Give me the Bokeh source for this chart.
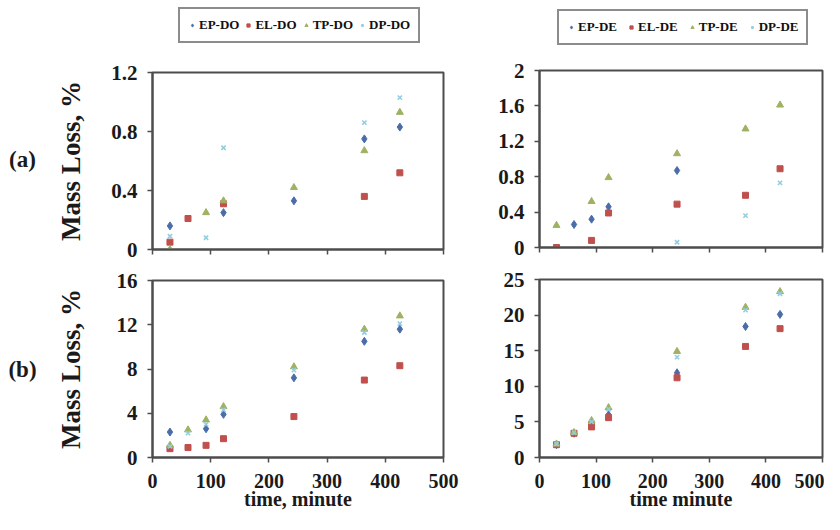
from bokeh.plotting import figure
from bokeh.layouts import column, row
from bokeh.models import Range1d, FixedTicker, Legend, LegendItem, ColumnDataSource
from bokeh.embed import file_html
from bokeh.resources import INLINE
from bokeh.core.properties import value

nan = float("nan")

# ---------------- data ----------------
time_min = [30, 61, 92, 122, 243, 364, 425]
x_ticks = [0, 100, 200, 300, 400, 500]

names_DO = ["EP-DO", "EL-DO", "TP-DO", "DP-DO"]
names_DE = ["EP-DE", "EL-DE", "TP-DE", "DP-DE"]

# (a) DO
a_EP_DO = [0.16, nan, nan, 0.25, 0.33, 0.75, 0.83]
a_EL_DO = [0.05, 0.21, nan, 0.31, nan, 0.36, 0.52]
a_TP_DO = [0.0, nan, 0.25, 0.33, 0.42, 0.67, 0.93]
a_DP_DO = [0.09, nan, 0.08, 0.69, nan, 0.86, 1.03]
# (a) DE
a_EP_DE = [nan, 0.26, 0.32, 0.46, 0.87, nan, nan]
a_EL_DE = [0.0, nan, 0.08, 0.39, 0.49, 0.59, 0.89]
a_TP_DE = [0.25, nan, 0.52, 0.79, 1.06, 1.34, 1.61]
a_DP_DE = [nan, nan, nan, nan, 0.06, 0.36, 0.73]
# (b) DO
b_EP_DO = [2.3, nan, 2.6, 3.9, 7.2, 10.5, 11.6]
b_EL_DO = [0.8, 0.9, 1.1, 1.7, 3.7, 7.0, 8.3]
b_TP_DO = [1.1, 2.5, 3.4, 4.6, 8.2, 11.6, 12.8]
b_DP_DO = [1.0, 2.2, 3.0, 4.3, 7.9, 11.3, 12.1]
# (b) DE
b_EP_DE = [1.8, 3.4, 4.8, 6.0, 11.9, 18.4, 20.1]
b_EL_DE = [1.8, 3.4, 4.3, 5.6, 11.2, 15.6, 18.1]
b_TP_DE = [1.9, 3.5, 5.2, 7.0, 14.9, 21.1, 23.3]
b_DP_DE = [1.9, 3.5, 5.0, 6.8, 14.1, 20.7, 23.0]

a_DO_yticks = [0, 0.4, 0.8, 1.2]
a_DO_ylabels = ["0", "0.4", "0.8", "1.2"]
a_DE_yticks = [0, 0.4, 0.8, 1.2, 1.6, 2]
a_DE_ylabels = ["0", "0.4", "0.8", "1.2", "1.6", "2"]
b_DO_yticks = [0, 4, 8, 12, 16]
b_DO_ylabels = ["0", "4", "8", "12", "16"]
b_DE_yticks = [0, 5, 10, 15, 20, 25]
b_DE_ylabels = ["0", "5", "10", "15", "20", "25"]

row_labels = ["(a)", "(b)"]
y_title = "Mass Loss, %"
x_title_DO = "time, minute"
x_title_DE = "time minute"

# ---------------- styles ----------------
FONT = "Liberation Serif"
FRAME = "#4d4d4d"
STYLES = [
    dict(marker="diamond", size=8, fill_color="#4A6DAA", line_color="#4A6DAA", line_width=1),
    dict(marker="square", size=6, fill_color="#C0504D", line_color="#C0504D", line_width=1),
    dict(marker="triangle", size=7, fill_color="#9FB262", line_color="#9FB262", line_width=1),
    dict(marker="x", size=6, fill_color=None, line_color="#93CDE0", line_width=1.6),
]


def panel(width, height, mbl, mbr, mbt, mbb, ymax, yticks, ylabels, series,
          xlabels=True, xtitle=None, ytitle=None, ytitle_standoff=20):
    p = figure(width=width, height=height, x_range=Range1d(0, 500),
               y_range=Range1d(0, ymax), output_backend="svg",
               toolbar_location=None, min_border_left=mbl, min_border_right=mbr,
               min_border_top=mbt, min_border_bottom=mbb)
    p.xgrid.visible = False
    p.ygrid.visible = False
    p.outline_line_color = FRAME
    p.outline_line_width = 2
    p.xaxis.ticker = FixedTicker(ticks=x_ticks)
    p.yaxis.ticker = FixedTicker(ticks=yticks)
    p.yaxis.major_label_overrides = {t: s for t, s in zip(yticks, ylabels)}
    for ax in (p.xaxis, p.yaxis):
        ax.axis_line_color = FRAME
        ax.axis_line_width = 2
        ax.major_tick_line_color = FRAME
        ax.major_tick_line_width = 1.5
        ax.major_tick_out = 5
        ax.major_tick_in = 0
        ax.minor_tick_out = 0
        ax.minor_tick_in = 0
        ax.major_label_text_font = FONT
        ax.major_label_text_font_style = "bold"
        ax.major_label_text_color = "#1a1a1a"
        ax.axis_label_text_font = FONT
        ax.axis_label_text_font_style = "bold"
        ax.axis_label_text_color = "#1a1a1a"
    p.yaxis.major_label_text_font_size = "21px"
    p.xaxis.major_label_text_font_size = "20px"
    p.yaxis.major_label_standoff = 10
    if xlabels:
        p.xaxis.major_label_standoff = 11
    else:
        p.xaxis.major_label_text_color = None
        p.xaxis.major_label_text_font_size = "1px"
        p.xaxis.major_label_standoff = 0
    if xtitle:
        p.xaxis.axis_label = xtitle
        p.xaxis.axis_label_text_font_size = "20px"
        p.xaxis.axis_label_standoff = -3
    if ytitle:
        p.yaxis.axis_label = ytitle
        p.yaxis.axis_label_text_font_size = "27px"
        p.yaxis.axis_label_standoff = ytitle_standoff
    for ys, st in zip(series, STYLES):
        src = ColumnDataSource(dict(t=time_min, y=ys))
        p.scatter(x="t", y="y", source=src, **st)
    return p


p1 = panel(437, 202, 104, 42, 12, 13, 1.2, a_DO_yticks, a_DO_ylabels,
           [a_EP_DO, a_EL_DO, a_TP_DO, a_DP_DO], xlabels=False,
           ytitle=y_title, ytitle_standoff=22)
p3 = panel(437, 252, 104, 42, 18, 57, 16, b_DO_yticks, b_DO_ylabels,
           [b_EP_DO, b_EL_DO, b_TP_DO, b_DP_DO], xlabels=True,
           xtitle=x_title_DO, ytitle=y_title, ytitle_standoff=28)
p2 = panel(339, 202, 54, 2, 10, 15, 2, a_DE_yticks, a_DE_ylabels,
           [a_EP_DE, a_EL_DE, a_TP_DE, a_DP_DE], xlabels=False)
p4 = panel(339, 252, 47, 2, 17, 57, 25, b_DE_yticks, b_DE_ylabels,
           [b_EP_DE, b_EL_DE, b_TP_DE, b_DP_DE], xlabels=True,
           xtitle=x_title_DE)

# ---------------- legends strip ----------------
lf = figure(width=824, height=60, x_range=Range1d(0, 824), y_range=Range1d(0, 60),
            output_backend="svg", toolbar_location=None,
            x_axis_location=None, y_axis_location=None, min_border=0,
            outline_line_color=None)
lf.xgrid.visible = False
lf.ygrid.visible = False


def make_legend(names, loc, spacing):
    items = []
    for nm, st in zip(names, STYLES):
        # legend-only renderer, its single point lies outside the visible range
        r = lf.scatter(x=[-1000], y=[-1000], **st)
        items.append(LegendItem(label=nm, renderers=[r]))
    lg = Legend(items=items, location=loc, orientation="horizontal",
                border_line_color="#1a1a1a", border_line_width=2,
                label_text_font=FONT, label_text_font_style="bold",
                label_text_font_size="13px", label_text_color="#111111",
                glyph_width=8, glyph_height=12, label_height=12,
                label_standoff=3, spacing=spacing, padding=8, margin=0,
                background_fill_color="white")
    lf.add_layout(lg, "center")


make_legend(names_DO, (178, 17), 5)
make_legend(names_DE, (557, 15), 10)

# ---------------- row labels ----------------
lab = figure(width=48, height=454, x_range=Range1d(0, 48), y_range=Range1d(454, 0),
             output_backend="svg", toolbar_location=None,
             x_axis_location=None, y_axis_location=None, min_border=0,
             outline_line_color=None)
lab.xgrid.visible = False
lab.ygrid.visible = False
lab.text(x=[22, 22], y=[99, 309], text=row_labels, text_font=value(FONT),
         text_font_style="bold", text_font_size="23px", text_color="#1a1a1a",
         text_align="center", text_baseline="middle")

layout = column(lf, row(lab, column(p1, p3), column(p2, p4)))

open("out.html", "w").write(file_html(layout, INLINE))
